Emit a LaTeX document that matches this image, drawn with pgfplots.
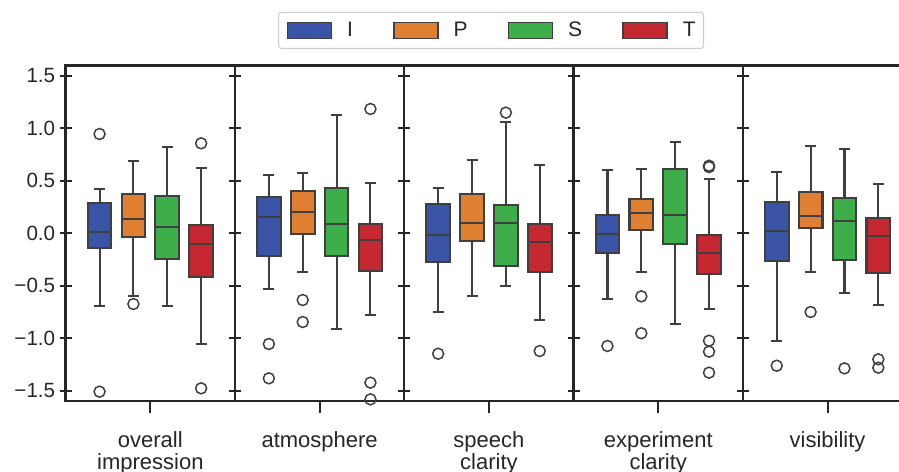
\documentclass[border=0pt]{standalone}
\usepackage{fontspec}
\setmainfont{Liberation Sans}
\usepackage{pgfplots}
\pgfplotsset{compat=1.18}
\usepgfplotslibrary{groupplots}
\definecolor{cI}{RGB}{58,84,168}
\definecolor{cP}{RGB}{222,127,50}
\definecolor{cS}{RGB}{61,174,74}
\definecolor{cT}{RGB}{198,40,50}
\definecolor{edge}{RGB}{63,63,63}
\definecolor{spine}{RGB}{38,38,38}
\definecolor{legframe}{RGB}{204,204,204}
\pgfplotsset{
  wh/.style={forget plot, draw=edge, line width=2.1pt, mark=none},
  outl/.style={forget plot, only marks, mark=o, mark size=5.5pt,
    mark options={draw=edge, fill=none, line width=1.5pt, solid}},
}
% pos, color, lw, lq, med, uq, uw
\newcommand{\bx}[7]{%
\pgfmathsetmacro\xa{#1-0.07}%
\pgfmathsetmacro\xb{#1+0.07}%
\pgfmathsetmacro\ca{#1-0.0325}%
\pgfmathsetmacro\cb{#1+0.0325}%
\addplot[wh] coordinates {(#1,#3) (#1,#4)};
\addplot[wh] coordinates {(#1,#6) (#1,#7)};
\addplot[wh] coordinates {(\ca,#3) (\cb,#3)};
\addplot[wh] coordinates {(\ca,#7) (\cb,#7)};
\addplot[wh, fill=#2, line cap=rect, line join=miter] coordinates {(\xa,#4) (\xb,#4) (\xb,#6) (\xa,#6) (\xa,#4)};
\addplot[wh] coordinates {(\xa,#5) (\xb,#5)};
}
\newcommand{\ol}[1]{\addplot[outl] coordinates {#1};}
\newcommand{\legimg}[1]{\addlegendimage{legend image code/.code={\draw[fill=#1, draw=edge, line width=1.6pt, rounded corners=0pt] (0pt,-8pt) rectangle (44pt,8pt);}}}
\begin{document}
\begin{tikzpicture}
\begin{groupplot}[
  group style={group size=5 by 1, horizontal sep=0pt, yticklabels at=edge left},
  scale only axis, width=169.3pt, height=335.3pt,
  xmin=-0.5, xmax=0.5, ymin=-1.5956, ymax=1.5947,
  ytick={-1.5,-1,-0.5,0,0.5,1,1.5},
  yticklabels={−1.5,−1.0,−0.5,0.0,0.5,1.0,1.5},
  xtick={0}, xtick pos=lower,
  tick align=center, major tick length=12pt,
  axis line style={draw=spine, line width=2.4pt},
  tick style={draw=spine, line width=2pt},
  xtick style={yshift=-6pt},
  ticklabel style={text=spine},
  yticklabel style={font=\fontsize{20.6}{22}\selectfont, xshift=-1pt},
  xticklabel style={font=\fontsize{22}{22}\selectfont, align=center, anchor=north, yshift=-21pt},
]
\nextgroupplot[xticklabels={{overall\\impression}},
  legend style={at={(2.513,1)}, anchor=south, yshift=16.7pt, legend columns=4,
    draw=legframe, line width=1pt, rounded corners=3pt,
    inner xsep=8pt, inner ysep=8pt,
    nodes={inner xsep=0pt, inner ysep=2pt},
    font=\fontsize{21}{22}\selectfont, text=spine,
    /tikz/every odd column/.append style={column sep=15pt},
    /tikz/every even column/.append style={column sep=40pt}},
  legend cell align=left]
\bx{-0.3}{cI}{-0.689}{-0.143}{0.016}{0.285}{0.421}
\ol{(-0.3,0.945) (-0.3,-1.507)}
\bx{-0.1}{cP}{-0.597}{-0.035}{0.139}{0.377}{0.691}
\ol{(-0.1,-0.673)}
\bx{0.1}{cS}{-0.689}{-0.245}{0.063}{0.358}{0.818}
\bx{0.3}{cT}{-1.056}{-0.413}{-0.099}{0.079}{0.621}
\ol{(0.3,0.856) (0.3,-1.475)}
\legimg{cI}\addlegendentry{I}
\legimg{cP}\addlegendentry{P}
\legimg{cS}\addlegendentry{S}
\legimg{cT}\addlegendentry{T}
\nextgroupplot[xticklabels={atmosphere}]
\bx{-0.3}{cI}{-0.527}{-0.219}{0.152}{0.342}{0.552}
\ol{(-0.3,-1.053) (-0.3,-1.380)}
\bx{-0.1}{cP}{-0.368}{-0.007}{0.203}{0.405}{0.571}
\ol{(-0.1,-0.635) (-0.1,-0.844)}
\bx{0.1}{cS}{-0.913}{-0.216}{0.088}{0.431}{1.123}
\bx{0.3}{cT}{-0.780}{-0.362}{-0.064}{0.091}{0.481}
\ol{(0.3,1.183) (0.3,-1.421) (0.3,-1.580)}
\nextgroupplot[xticklabels={{speech\\clarity}}]
\bx{-0.3}{cI}{-0.746}{-0.270}{-0.013}{0.279}{0.431}
\ol{(-0.3,-1.146)}
\bx{-0.1}{cP}{-0.600}{-0.070}{0.101}{0.374}{0.700}
\bx{0.1}{cS}{-0.498}{-0.308}{0.098}{0.266}{1.056}
\ol{(0.1,1.148)}
\bx{0.3}{cT}{-0.828}{-0.371}{-0.080}{0.091}{0.650}
\ol{(0.3,-1.120)}
\nextgroupplot[xticklabels={{experiment\\clarity}}]
\bx{-0.3}{cI}{-0.622}{-0.190}{-0.007}{0.171}{0.605}
\ol{(-0.3,-1.072)}
\bx{-0.1}{cP}{-0.368}{0.034}{0.196}{0.326}{0.612}
\ol{(-0.1,-0.600) (-0.1,-0.951)}
\bx{0.1}{cS}{-0.860}{-0.102}{0.174}{0.615}{0.866}
\bx{0.3}{cT}{-0.720}{-0.384}{-0.190}{-0.013}{0.517}
\ol{(0.3,0.643) (0.3,0.630) (0.3,-1.022) (0.3,-1.126) (0.3,-1.326)}
\nextgroupplot[xticklabels={visibility}]
\bx{-0.3}{cI}{-1.025}{-0.266}{0.025}{0.295}{0.580}
\ol{(-0.3,-1.260)}
\bx{-0.1}{cP}{-0.368}{0.050}{0.165}{0.396}{0.828}
\ol{(-0.1,-0.749)}
\bx{0.1}{cS}{-0.565}{-0.251}{0.120}{0.333}{0.805}
\ol{(0.1,-1.285)}
\bx{0.3}{cT}{-0.685}{-0.378}{-0.023}{0.148}{0.466}
\ol{(0.3,-1.199) (0.3,-1.279)}
\end{groupplot}
\pgfresetboundingbox
\path[use as bounding box] ([shift={(-65.7pt,-70pt)}]group c1r1.south west) rectangle ([shift={(833.3pt,401pt)}]group c1r1.south west);
\end{tikzpicture}
\end{document}
